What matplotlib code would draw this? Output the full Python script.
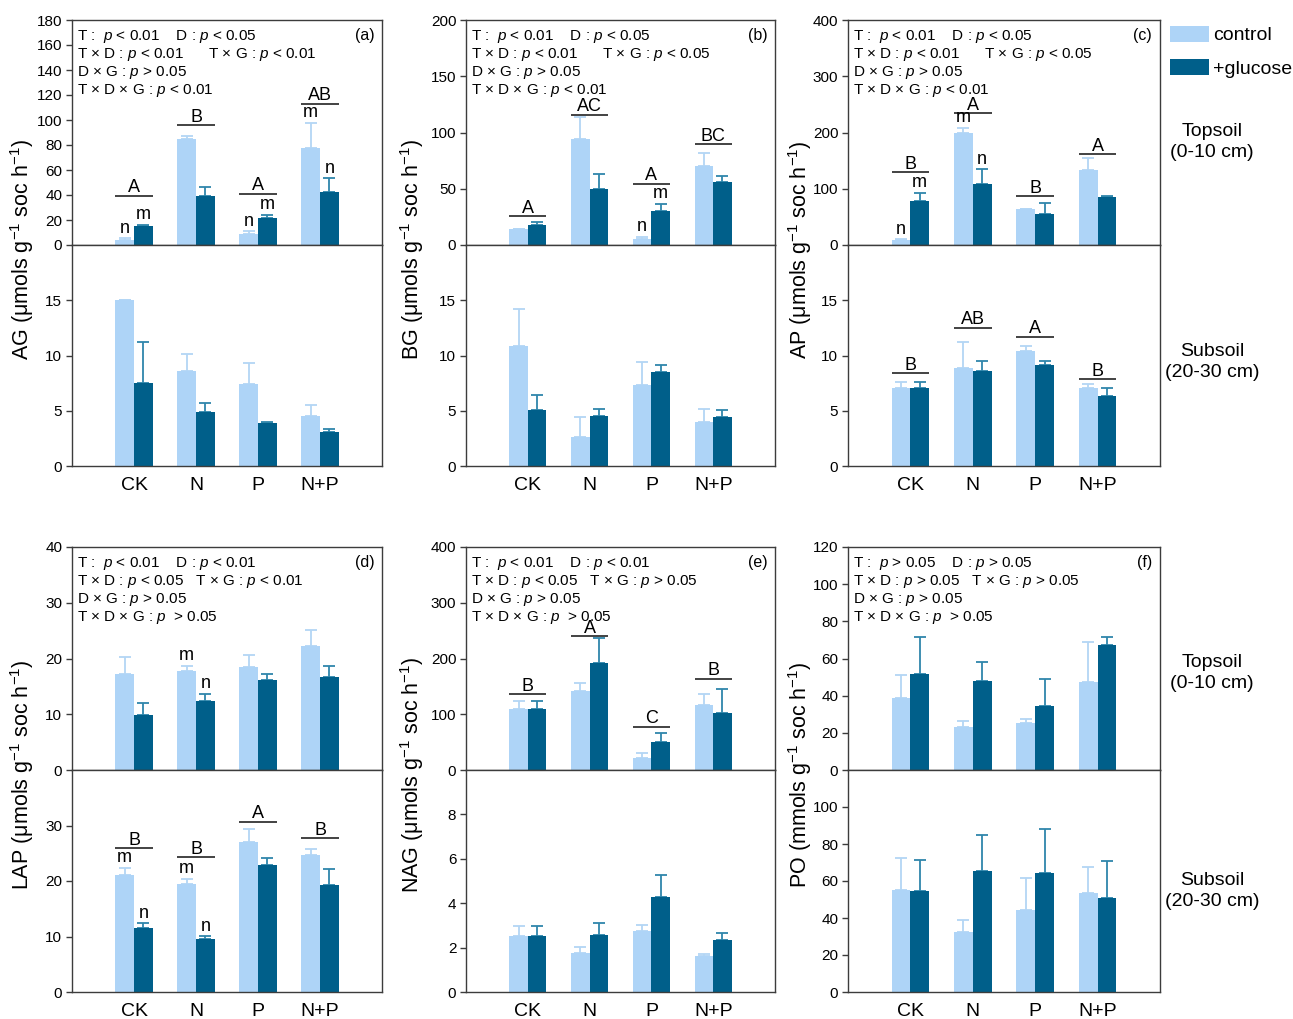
import numpy as np
import matplotlib.pyplot as plt
from matplotlib.patches import Patch

plt.rcParams['font.family'] = ['Liberation Sans', 'DejaVu Sans']
plt.rcParams['mathtext.fontset'] = 'custom'
plt.rcParams['mathtext.rm'] = 'Liberation Sans'
plt.rcParams['mathtext.it'] = 'Liberation Sans:italic'

groups = ['CK', 'N', 'P', 'N+P']

# enzyme activities: mean and standard error, control vs +glucose
ag_top_ctrl = [3.8, 85.0, 9.1, 78.0]
ag_top_ctrl_se = [1.5, 2.5, 2.1, 19.7]
ag_top_gluc = [15.2, 39.0, 21.6, 42.6]
ag_top_gluc_se = [1.1, 7.5, 2.7, 11.0]
ag_sub_ctrl = [15.0, 8.6, 7.4, 4.55]
ag_sub_ctrl_se = [0.0, 1.55, 1.95, 1.0]
ag_sub_gluc = [7.5, 4.85, 3.9, 3.05]
ag_sub_gluc_se = [3.75, 0.85, 0.1, 0.3]

bg_top_ctrl = [14.2, 94.6, 5.7, 70.0]
bg_top_ctrl_se = [0.0, 19.4, 1.8, 12.0]
bg_top_gluc = [17.8, 49.9, 30.5, 55.9]
bg_top_gluc_se = [2.7, 13.2, 6.1, 5.4]
bg_sub_ctrl = [10.9, 2.65, 7.35, 3.98]
bg_sub_ctrl_se = [3.3, 1.75, 2.1, 1.2]
bg_sub_gluc = [5.06, 4.55, 8.55, 4.4]
bg_sub_gluc_se = [1.4, 0.63, 0.6, 0.66]

ap_top_ctrl = [9.0, 199.8, 63.6, 133.8]
ap_top_ctrl_se = [1.8, 9.0, 0.6, 20.4]
ap_top_gluc = [78.0, 108.0, 55.8, 84.6]
ap_top_gluc_se = [15.0, 26.4, 18.0, 1.8]
ap_sub_ctrl = [7.1, 8.87, 10.4, 7.1]
ap_sub_ctrl_se = [0.47, 2.37, 0.45, 0.32]
ap_sub_gluc = [7.1, 8.6, 9.14, 6.37]
ap_sub_gluc_se = [0.47, 0.93, 0.33, 0.69]

lap_top_ctrl = [17.2, 17.7, 18.55, 22.2]
lap_top_ctrl_se = [3.0, 1.0, 2.05, 3.0]
lap_top_gluc = [9.94, 12.3, 16.2, 16.75]
lap_top_gluc_se = [2.16, 1.4, 1.0, 1.85]
lap_sub_ctrl = [21.05, 19.4, 27.0, 24.65]
lap_sub_ctrl_se = [1.35, 1.0, 2.3, 1.05]
lap_sub_gluc = [11.5, 9.56, 22.85, 19.3]
lap_sub_gluc_se = [0.9, 0.48, 1.25, 2.9]

nag_top_ctrl = [109.6, 141.6, 22.3, 116.9]
nag_top_ctrl_se = [14.4, 14.4, 7.8, 19.1]
nag_top_gluc = [109.6, 192.8, 50.0, 102.4]
nag_top_gluc_se = [14.4, 43.9, 16.9, 42.8]
nag_sub_ctrl = [2.54, 1.77, 2.74, 1.62]
nag_sub_ctrl_se = [0.45, 0.25, 0.28, 0.09]
nag_sub_gluc = [2.54, 2.57, 4.27, 2.33]
nag_sub_gluc_se = [0.45, 0.53, 1.01, 0.33]

po_top_ctrl = [38.8, 23.3, 25.1, 47.3]
po_top_ctrl_se = [12.1, 3.2, 2.5, 21.7]
po_top_gluc = [51.4, 47.7, 34.7, 67.3]
po_top_gluc_se = [20.3, 10.2, 14.0, 4.2]
po_sub_ctrl = [55.3, 32.6, 44.1, 53.7]
po_sub_ctrl_se = [17.3, 6.3, 17.5, 13.9]
po_sub_gluc = [54.6, 65.6, 64.1, 50.6]
po_sub_gluc_se = [16.6, 19.3, 24.2, 20.0]

# significance letters (treatment groups) and the level of their bars
ag_top_letters = ['A', 'B', 'A', 'AB']
ag_top_letter_y = [39.6, 96, 41, 113]
ag_top_mn_ctrl = ['n', '', 'n', 'm']
ag_top_mn_gluc = ['m', '', 'm', 'n']

bg_top_letters = ['A', 'AC', 'A', 'BC']
bg_top_letter_y = [25.7, 116, 54.4, 89.8]
bg_top_mn_ctrl = ['', '', 'n', '']
bg_top_mn_gluc = ['', '', 'm', '']

ap_top_letters = ['B', 'A', 'B', 'A']
ap_top_letter_y = [129.6, 234, 86.4, 161.4]
ap_top_mn_ctrl = ['n', 'm', '', '']
ap_top_mn_gluc = ['m', 'n', '', '']
ap_sub_letters = ['B', 'AB', 'A', 'B']
ap_sub_letter_y = [8.42, 12.53, 11.7, 7.88]

lap_top_mn_ctrl = ['', 'm', '', '']
lap_top_mn_gluc = ['', 'n', '', '']
lap_sub_letters = ['B', 'B', 'A', 'B']
lap_sub_letter_y = [25.9, 24.3, 30.7, 27.7]
lap_sub_mn_ctrl = ['m', 'm', '', '']
lap_sub_mn_gluc = ['n', 'n', '', '']

nag_top_letters = ['B', 'A', 'C', 'B']
nag_top_letter_y = [136, 240, 77.7, 163.9]

stats_a = ['T :  $p$ < 0.01    D : $p$ < 0.05',
           'T × D : $p$ < 0.01      T × G : $p$ < 0.01',
           'D × G : $p$ > 0.05',
           'T × D × G : $p$ < 0.01']
stats_b = ['T :  $p$ < 0.01    D : $p$ < 0.05',
           'T × D : $p$ < 0.01      T × G : $p$ < 0.05',
           'D × G : $p$ > 0.05',
           'T × D × G : $p$ < 0.01']
stats_c = ['T :  $p$ < 0.01    D : $p$ < 0.05',
           'T × D : $p$ < 0.01      T × G : $p$ < 0.05',
           'D × G : $p$ > 0.05',
           'T × D × G : $p$ < 0.01']
stats_d = ['T :  $p$ < 0.01    D : $p$ < 0.01',
           'T × D : $p$ < 0.05   T × G : $p$ < 0.01',
           'D × G : $p$ > 0.05',
           'T × D × G : $p$  > 0.05']
stats_e = ['T :  $p$ < 0.01    D : $p$ < 0.01',
           'T × D : $p$ < 0.05   T × G : $p$ > 0.05',
           'D × G : $p$ > 0.05',
           'T × D × G : $p$  > 0.05']
stats_f = ['T :  $p$ > 0.05    D : $p$ > 0.05',
           'T × D : $p$ > 0.05   T × G : $p$ > 0.05',
           'D × G : $p$ > 0.05',
           'T × D × G : $p$  > 0.05']

C_CTRL = '#aed4f7'
C_GLUC = '#005f8a'
E_CTRL = '#b3d6f5'
E_GLUC = '#2f86ab'
SPINE = '#3c3c3c'
W = 0.3
x = np.arange(len(groups))

W_PX, H_PX = 1293, 1019
fig = plt.figure(figsize=(W_PX / 100, H_PX / 100), dpi=100)


def make_ax(left, top, right, bottom):
    return fig.add_axes([left / W_PX, 1 - bottom / H_PX,
                         (right - left) / W_PX, (bottom - top) / H_PX])


def bars(ax, ctrl, ctrl_se, gluc, gluc_se, ylim, yticks):
    ax.bar(x - W / 2, ctrl, W, color=C_CTRL, zorder=2)
    ax.bar(x + W / 2, gluc, W, color=C_GLUC, zorder=2)
    ax.errorbar(x - W / 2, ctrl, yerr=[np.zeros(4), ctrl_se], fmt='none',
                ecolor=E_CTRL, elinewidth=1.3, capsize=4, capthick=1.3, zorder=1)
    ax.errorbar(x + W / 2, gluc, yerr=[np.zeros(4), gluc_se], fmt='none',
                ecolor=E_GLUC, elinewidth=1.3, capsize=4, capthick=1.3, zorder=1)
    ax.set_xlim(-1, 4)
    ax.set_ylim(*ylim)
    ax.set_yticks(yticks)
    ax.set_xticks(x)
    ax.tick_params(axis='y', direction='out', length=4, width=1,
                   labelsize=11, color=SPINE, pad=3)
    ax.tick_params(axis='x', length=0)
    for s in ax.spines.values():
        s.set_color(SPINE)
        s.set_linewidth(1.0)


def letters(ax, labels, levels):
    for xi, lab, lv in zip(x, labels, levels):
        ax.hlines(lv, xi - 0.3, xi + 0.3, color='#222222', lw=1.2, zorder=3)
        ax.annotate(lab, (xi, lv), xytext=(0, -0.5), textcoords='offset points',
                    ha='center', va='bottom', fontsize=13)


def mn(ax, vals, se, labs, dx):
    for xi, v, e, lab in zip(x, vals, se, labs):
        if lab:
            ax.annotate(lab, (xi + dx, v + e), xytext=(0, 1),
                        textcoords='offset points', ha='center',
                        va='bottom', fontsize=13)


def stats(ax, lines, tag):
    ax.text(0.015, 0.965, '\n'.join(lines), transform=ax.transAxes,
            ha='left', va='top', fontsize=11, linespacing=1.1)
    ax.text(0.975, 0.965, tag, transform=ax.transAxes, ha='right',
            va='top', fontsize=11.5)


cols = [(72, 382), (466, 775), (848, 1160)]
rows = [(20, 245, 466), (547, 770, 992)]

top_data = [
    (ag_top_ctrl, ag_top_ctrl_se, ag_top_gluc, ag_top_gluc_se, (0, 180), range(0, 181, 20)),
    (bg_top_ctrl, bg_top_ctrl_se, bg_top_gluc, bg_top_gluc_se, (0, 200), range(0, 201, 50)),
    (ap_top_ctrl, ap_top_ctrl_se, ap_top_gluc, ap_top_gluc_se, (0, 400), range(0, 401, 100)),
    (lap_top_ctrl, lap_top_ctrl_se, lap_top_gluc, lap_top_gluc_se, (0, 40), range(0, 41, 10)),
    (nag_top_ctrl, nag_top_ctrl_se, nag_top_gluc, nag_top_gluc_se, (0, 400), range(0, 401, 100)),
    (po_top_ctrl, po_top_ctrl_se, po_top_gluc, po_top_gluc_se, (0, 120), range(0, 121, 20)),
]
sub_data = [
    (ag_sub_ctrl, ag_sub_ctrl_se, ag_sub_gluc, ag_sub_gluc_se, (0, 20), range(0, 16, 5)),
    (bg_sub_ctrl, bg_sub_ctrl_se, bg_sub_gluc, bg_sub_gluc_se, (0, 20), range(0, 16, 5)),
    (ap_sub_ctrl, ap_sub_ctrl_se, ap_sub_gluc, ap_sub_gluc_se, (0, 20), range(0, 16, 5)),
    (lap_sub_ctrl, lap_sub_ctrl_se, lap_sub_gluc, lap_sub_gluc_se, (0, 40), range(0, 31, 10)),
    (nag_sub_ctrl, nag_sub_ctrl_se, nag_sub_gluc, nag_sub_gluc_se, (0, 10), range(0, 9, 2)),
    (po_sub_ctrl, po_sub_ctrl_se, po_sub_gluc, po_sub_gluc_se, (0, 120), range(0, 101, 20)),
]
ylabels = ['AG', 'BG', 'AP', 'LAP', 'NAG', 'PO']
units = ['μmols', 'μmols', 'μmols', 'μmols', 'μmols', 'mmols']
tags = ['(a)', '(b)', '(c)', '(d)', '(e)', '(f)']
all_stats = [stats_a, stats_b, stats_c, stats_d, stats_e, stats_f]
label_x = [22, 412, 800]

tops, subs = [], []
for i in range(6):
    r, c = divmod(i, 3)
    y0, ymid, y1 = rows[r]
    xl, xr = cols[c]
    at = make_ax(xl, y0, xr, ymid)
    ab = make_ax(xl, ymid, xr, y1)
    bars(at, *top_data[i])
    bars(ab, *sub_data[i])
    at.set_xticklabels([])
    ab.set_xticklabels(groups, fontsize=14)
    ab.tick_params(axis='x', pad=8)
    stats(at, all_stats[i], tags[i])
    fig.text(label_x[c] / W_PX, 1 - (ymid + 5) / H_PX,
             ylabels[i] + ' (' + units[i] + ' g$^{-1}$ soc h$^{-1}$)',
             rotation=90, ha='center', va='center', fontsize=15.5)
    tops.append(at)
    subs.append(ab)

letters(tops[0], ag_top_letters, ag_top_letter_y)
mn(tops[0], ag_top_ctrl, ag_top_ctrl_se, ag_top_mn_ctrl, -W / 2)
mn(tops[0], ag_top_gluc, ag_top_gluc_se, ag_top_mn_gluc, W / 2)

letters(tops[1], bg_top_letters, bg_top_letter_y)
mn(tops[1], bg_top_ctrl, bg_top_ctrl_se, bg_top_mn_ctrl, -W / 2)
mn(tops[1], bg_top_gluc, bg_top_gluc_se, bg_top_mn_gluc, W / 2)

letters(tops[2], ap_top_letters, ap_top_letter_y)
mn(tops[2], ap_top_ctrl, ap_top_ctrl_se, ap_top_mn_ctrl, -W / 2)
mn(tops[2], ap_top_gluc, ap_top_gluc_se, ap_top_mn_gluc, W / 2)
letters(subs[2], ap_sub_letters, ap_sub_letter_y)

mn(tops[3], lap_top_ctrl, lap_top_ctrl_se, lap_top_mn_ctrl, -W / 2)
mn(tops[3], lap_top_gluc, lap_top_gluc_se, lap_top_mn_gluc, W / 2)
letters(subs[3], lap_sub_letters, lap_sub_letter_y)
mn(subs[3], lap_sub_ctrl, lap_sub_ctrl_se, lap_sub_mn_ctrl, -W / 2)
mn(subs[3], lap_sub_gluc, lap_sub_gluc_se, lap_sub_mn_gluc, W / 2)

letters(tops[4], nag_top_letters, nag_top_letter_y)

# depth labels on the right
for ymid_top, ymid_sub in [(142, 362), (673, 891)]:
    fig.text(1212 / W_PX, 1 - ymid_top / H_PX, 'Topsoil\n(0-10 cm)',
             ha='center', va='center', fontsize=14, linespacing=1.35)
    fig.text(1212 / W_PX, 1 - ymid_sub / H_PX, 'Subsoil\n(20-30 cm)',
             ha='center', va='center', fontsize=14, linespacing=1.35)

fig.legend(handles=[Patch(facecolor=C_CTRL, label='control'),
                    Patch(facecolor=C_GLUC, label='+glucose')],
           loc='upper left', bbox_to_anchor=(1170 / W_PX, 1 - 26 / H_PX),
           frameon=False, fontsize=14, handlelength=2.0, handleheight=0.85,
           handletextpad=0.2, labelspacing=0.75, borderpad=0, borderaxespad=0)

fig.savefig('out.png', dpi=100)
